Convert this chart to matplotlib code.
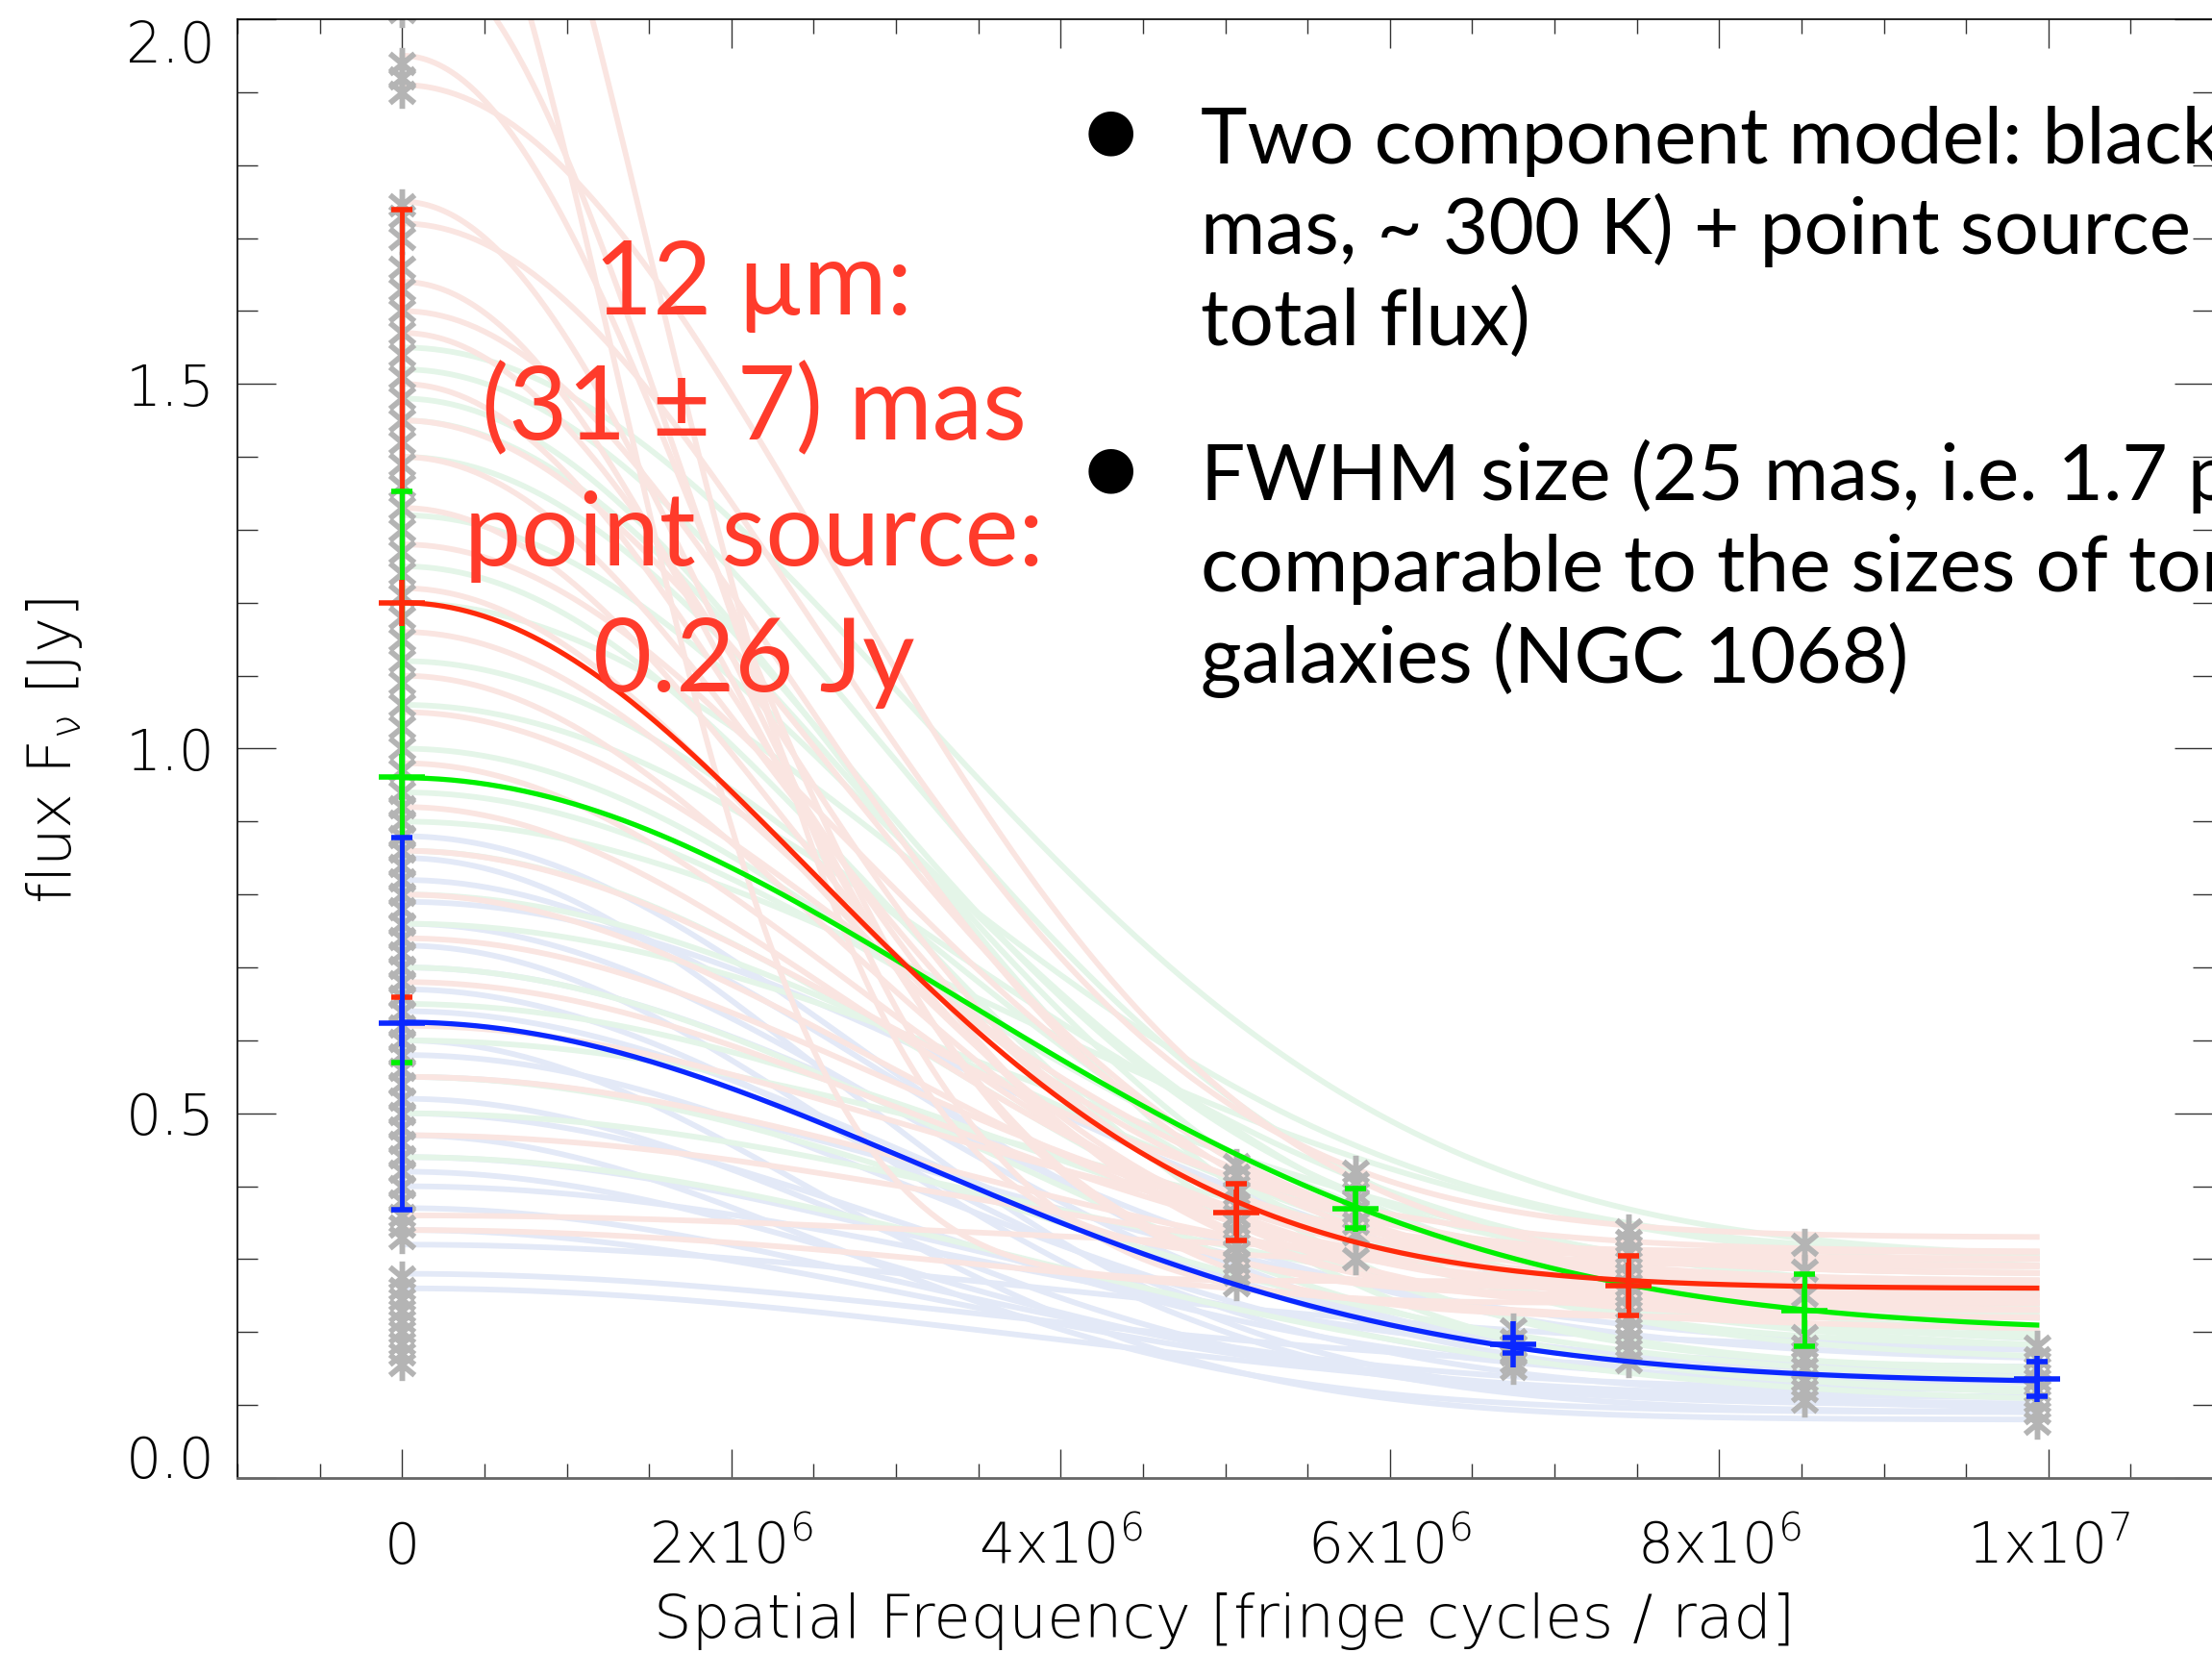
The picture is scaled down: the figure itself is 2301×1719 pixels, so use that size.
import numpy as np
import matplotlib
matplotlib.use('Agg')
import matplotlib.pyplot as plt
from matplotlib import font_manager
from matplotlib.path import Path
from matplotlib.ticker import MultipleLocator, FuncFormatter

# measured visibilities (correlated flux) per wavelength: spatial frequency,
# mean flux and error-bar limits [Jy]
red_u = [0.0, 5.07e6, 7.45e6]
red_flux = [1.20, 0.364, 0.264]
red_lo = [0.659, 0.325, 0.223]
red_hi = [1.739, 0.403, 0.305]

green_u = [0.0, 5.79e6, 8.52e6]
green_flux = [0.961, 0.369, 0.230]
green_lo = [0.569, 0.343, 0.181]
green_hi = [1.353, 0.397, 0.279]

blue_u = [0.0, 6.75e6, 9.93e6]
blue_flux = [0.623, 0.183, 0.136]
blue_lo = [0.368, 0.171, 0.112]
blue_hi = [0.878, 0.193, 0.160]

# individual bootstrap measurements (grey asterisks)
boot_u = [0.0, 5.07e6, 5.79e6, 6.75e6, 7.45e6, 8.52e6, 9.93e6]
boot_flux = [
    [0.155, 0.17, 0.185, 0.20, 0.215, 0.23, 0.245, 0.26, 0.275, 0.33, 0.345,
     0.36, 0.38, 0.40, 0.42, 0.44, 0.46, 0.48, 0.50, 0.52, 0.54, 0.56, 0.58,
     0.60, 0.62, 0.64, 0.66, 0.68, 0.70, 0.72, 0.74, 0.76, 0.78, 0.80, 0.82,
     0.84, 0.86, 0.88, 0.90, 0.92, 0.94, 0.97, 1.00, 1.03, 1.06, 1.09, 1.12,
     1.15, 1.18, 1.21, 1.24, 1.27, 1.30, 1.33, 1.36, 1.39, 1.42, 1.45, 1.48,
     1.51, 1.54, 1.57, 1.60, 1.63, 1.66, 1.70, 1.73, 1.745, 1.90, 1.92, 1.94,
     2.01],
    [0.265, 0.28, 0.295, 0.31, 0.32, 0.335, 0.35, 0.36, 0.375, 0.39, 0.40,
     0.415, 0.43],
    [0.30, 0.335, 0.35, 0.365, 0.38, 0.39, 0.405, 0.42],
    [0.15, 0.16, 0.17, 0.18, 0.19, 0.205],
    [0.16, 0.175, 0.19, 0.205, 0.22, 0.235, 0.25, 0.265, 0.28, 0.295, 0.31,
     0.325, 0.34],
    [0.105, 0.12, 0.135, 0.15, 0.165, 0.18, 0.195, 0.25, 0.285, 0.32],
    [0.075, 0.09, 0.105, 0.12, 0.135, 0.15, 0.165, 0.18],
]

# best-fit two-component models: total flux, point source flux, FWHM [mas]
red_model = (1.20, 0.26, 31.0)
green_model = (0.96, 0.20, 23.0)
blue_model = (0.625, 0.13, 24.6)

# Monte Carlo fits to the bootstrap samples
red_mc_total = [2.60, 2.35, 2.10, 1.95, 1.91, 1.75, 1.72, 1.64, 1.60, 1.57,
                1.50, 1.45, 1.40, 1.33, 1.28, 1.22, 1.16, 1.10, 1.05, 0.98,
                0.92, 0.86, 0.80, 0.74, 0.68, 0.62, 0.55, 0.47, 0.36, 0.34]
red_mc_point = [0.30, 0.27, 0.24, 0.26, 0.28, 0.25, 0.33, 0.22, 0.27, 0.31,
                0.24, 0.26, 0.29, 0.23, 0.27, 0.25, 0.30, 0.22, 0.28, 0.24,
                0.26, 0.31, 0.23, 0.27, 0.25, 0.29, 0.24, 0.26, 0.30, 0.20]
red_mc_fwhm = [52, 60, 45, 42, 30, 40, 31, 38, 32, 36,
               35, 30, 34, 33, 29, 32, 31, 30, 28, 29,
               29, 28, 27, 27, 26, 26, 24, 23, 22, 20]

green_mc_total = [1.55, 1.52, 1.48, 1.45, 1.40, 1.32, 1.25, 1.20, 1.12, 1.06,
                  1.00, 0.94, 0.90, 0.86, 0.80, 0.76, 0.70, 0.65, 0.60, 0.55,
                  0.50, 0.44]
green_mc_point = [0.30, 0.25, 0.15, 0.28, 0.18, 0.22, 0.12, 0.30, 0.19, 0.25,
                  0.16, 0.21, 0.28, 0.14, 0.19, 0.24, 0.11, 0.17, 0.22, 0.13,
                  0.18, 0.10]
green_mc_fwhm = [25, 27, 28, 29, 27, 26, 27, 25, 25, 24,
                 24, 23, 22, 24, 22, 21, 23, 21, 20, 22,
                 20, 21]

blue_mc_total = [0.88, 0.85, 0.82, 0.79, 0.76, 0.73, 0.70, 0.67, 0.64, 0.60,
                 0.58, 0.55, 0.52, 0.50, 0.47, 0.44, 0.42, 0.40, 0.37, 0.34,
                 0.32, 0.28, 0.26]
blue_mc_point = [0.15, 0.10, 0.13, 0.18, 0.12, 0.09, 0.16, 0.11, 0.14, 0.08,
                 0.12, 0.17, 0.10, 0.13, 0.09, 0.15, 0.11, 0.14, 0.12, 0.10,
                 0.17, 0.14, 0.09]
blue_mc_fwhm = [28, 30, 26, 22, 26, 29, 24, 27, 25, 31,
                25, 22, 28, 26, 30, 24, 27, 22, 26, 24,
                20, 22, 20]

RED = '#ff2a0a'
GREEN = '#00f000'
BLUE = '#0a28ff'
RED_FAINT = '#fae5e1'
GREEN_FAINT = '#e4f5e8'
BLUE_FAINT = '#e3e9f7'
GREY = '#b4b4b4'
LABEL_RED = '#ff3b2b'

MAS = np.pi / (180.0 * 3600.0 * 1000.0)


def two_component(u, total, point, fwhm_mas):
    theta = fwhm_mas * MAS
    vis = np.exp(-(np.pi * theta * u) ** 2 / (4.0 * np.log(2.0)))
    return point + (total - point) * vis


def light_family():
    for fam in ['DejaVu Sans', 'Lato', 'Roboto', 'Open Sans']:
        for f in font_manager.fontManager.ttflist:
            w = f.weight
            if not isinstance(w, int):
                w = font_manager.weight_dict.get(w, 400)
            if f.name == fam and 200 <= w <= 300:
                return fam, w
    return 'DejaVu Sans', 400


axis_family, axis_weight = light_family()
plt.rcParams['font.family'] = [axis_family, 'DejaVu Sans']
plt.rcParams['font.weight'] = axis_weight
plt.rcParams['mathtext.default'] = 'regular'

W, H = 2301, 1719
fig = plt.figure(figsize=(W / 100, H / 100), dpi=100)
ax = fig.add_axes([247 / W, 1 - 1537 / H, (2302 - 247) / W, (1537 - 20) / H])
ax.set_xlim(-1e6, 1.1e7)
ax.set_ylim(0, 2.0)

u_max = max(red_u + green_u + blue_u)
u = np.linspace(0, u_max, 400)

for totals, points, sizes, col in [
        (blue_mc_total, blue_mc_point, blue_mc_fwhm, BLUE_FAINT),
        (green_mc_total, green_mc_point, green_mc_fwhm, GREEN_FAINT),
        (red_mc_total, red_mc_point, red_mc_fwhm, RED_FAINT)]:
    for t, p, s in zip(totals, points, sizes):
        ax.plot(u, two_component(u, t, p, s), color=col, lw=4.2, zorder=1)

# IDL-like asterisk: vertical bar plus a cross
star = Path([(0, -1), (0, 1), (-0.77, -0.64), (0.77, 0.64),
             (-0.77, 0.64), (0.77, -0.64)],
            [Path.MOVETO, Path.LINETO, Path.MOVETO, Path.LINETO,
             Path.MOVETO, Path.LINETO])
for x0, ys in zip(boot_u, boot_flux):
    ax.plot([x0] * len(ys), ys, ls='none', marker=star, ms=24, mew=4.2,
            color=GREY, zorder=2)

for params, col in [(blue_model, BLUE), (green_model, GREEN), (red_model, RED)]:
    ax.plot(u, two_component(u, *params), color=col, lw=3.8, zorder=4)

for xs, ys, lo, hi, col in [(red_u, red_flux, red_lo, red_hi, RED),
                            (green_u, green_flux, green_lo, green_hi, GREEN),
                            (blue_u, blue_flux, blue_lo, blue_hi, BLUE)]:
    ys = np.array(ys)
    yerr = [ys - np.array(lo), np.array(hi) - ys]
    ax.errorbar(xs, ys, yerr=yerr, fmt='+', ms=34, mew=4.0, color=col,
                ecolor=col, elinewidth=3.5, capsize=8, capthick=3.5, zorder=5)

ax.xaxis.set_major_locator(MultipleLocator(2e6))
ax.xaxis.set_minor_locator(MultipleLocator(5e5))
ax.yaxis.set_major_locator(MultipleLocator(0.5))
ax.yaxis.set_minor_locator(MultipleLocator(0.1))


def sci_label(v, pos):
    if v == 0:
        return '0'
    exp = int(np.floor(np.log10(abs(v)) + 1e-9))
    return r'%dx10$^{%d}$' % (round(v / 10 ** exp), exp)


ax.xaxis.set_major_formatter(FuncFormatter(sci_label))
ax.yaxis.set_major_formatter(FuncFormatter(lambda v, pos: '%.1f' % v))

ax.tick_params(which='both', direction='in', top=True, right=True,
               width=1.0, color='#333333', labelsize=42)
ax.tick_params(axis='x', which='major', length=21.6, pad=64)
ax.tick_params(axis='x', which='minor', length=10.8)
ax.tick_params(axis='y', which='major', length=29, pad=17)
ax.tick_params(axis='y', which='minor', length=15)
for side in ['left', 'top', 'right']:
    ax.spines[side].set_linewidth(1.2)
ax.spines['bottom'].set_linewidth(2.0)
ax.spines['bottom'].set_color('#666666')

fig.canvas.draw()
for lab in ax.get_xticklabels():
    lab.set_verticalalignment('baseline')
for lab in ax.get_yticklabels():
    if lab.get_text() == '0.0':
        lab.set_verticalalignment('baseline')
    elif lab.get_text() == '2.0':
        lab.set_verticalalignment('top')

fig.text(1274 / W, 1 - 1703 / H, 'Spatial Frequency [fringe cycles / rad]',
         fontsize=45, ha='center', va='baseline')
fig.text(57 / W, 1 - 781 / H, r'flux F$_{\nu}$ [Jy]', fontsize=45,
         rotation=90, ha='center', va='center')

slide_font = ['Lato', 'DejaVu Sans']
red_lines = ['12 \u00b5m:', '(31 \u00b1 7) mas', 'point source:', '0.26 Jy']
for line, base in zip(red_lines, [327, 457, 588, 719]):
    fig.text(784 / W, 1 - base / H, line, fontsize=76, color=LABEL_RED,
             family=slide_font, weight='normal', ha='center', va='baseline')

bullet_lines = [
    ['Two component model: blackbody (',
     'mas, ~ 300 K) + point source (',
     'total flux)'],
    ['FWHM size (25 mas, i.e. 1.7 pc)',
     'comparable to the sizes of tori in',
     'galaxies (NGC 1068)'],
]
for block, first_base, dot_y in zip(bullet_lines, [169, 520], [131, 482]):
    fig.text(1155 / W, 1 - dot_y / H, '\u25cf', fontsize=44, family='DejaVu Sans',
             weight='normal', ha='center', va='center_baseline')
    for i, line in enumerate(block):
        fig.text(1249 / W, 1 - (first_base + 95 * i) / H, line, fontsize=59,
                 family=slide_font, weight='normal', ha='left', va='baseline')

fig.savefig('out.png', dpi=100)
